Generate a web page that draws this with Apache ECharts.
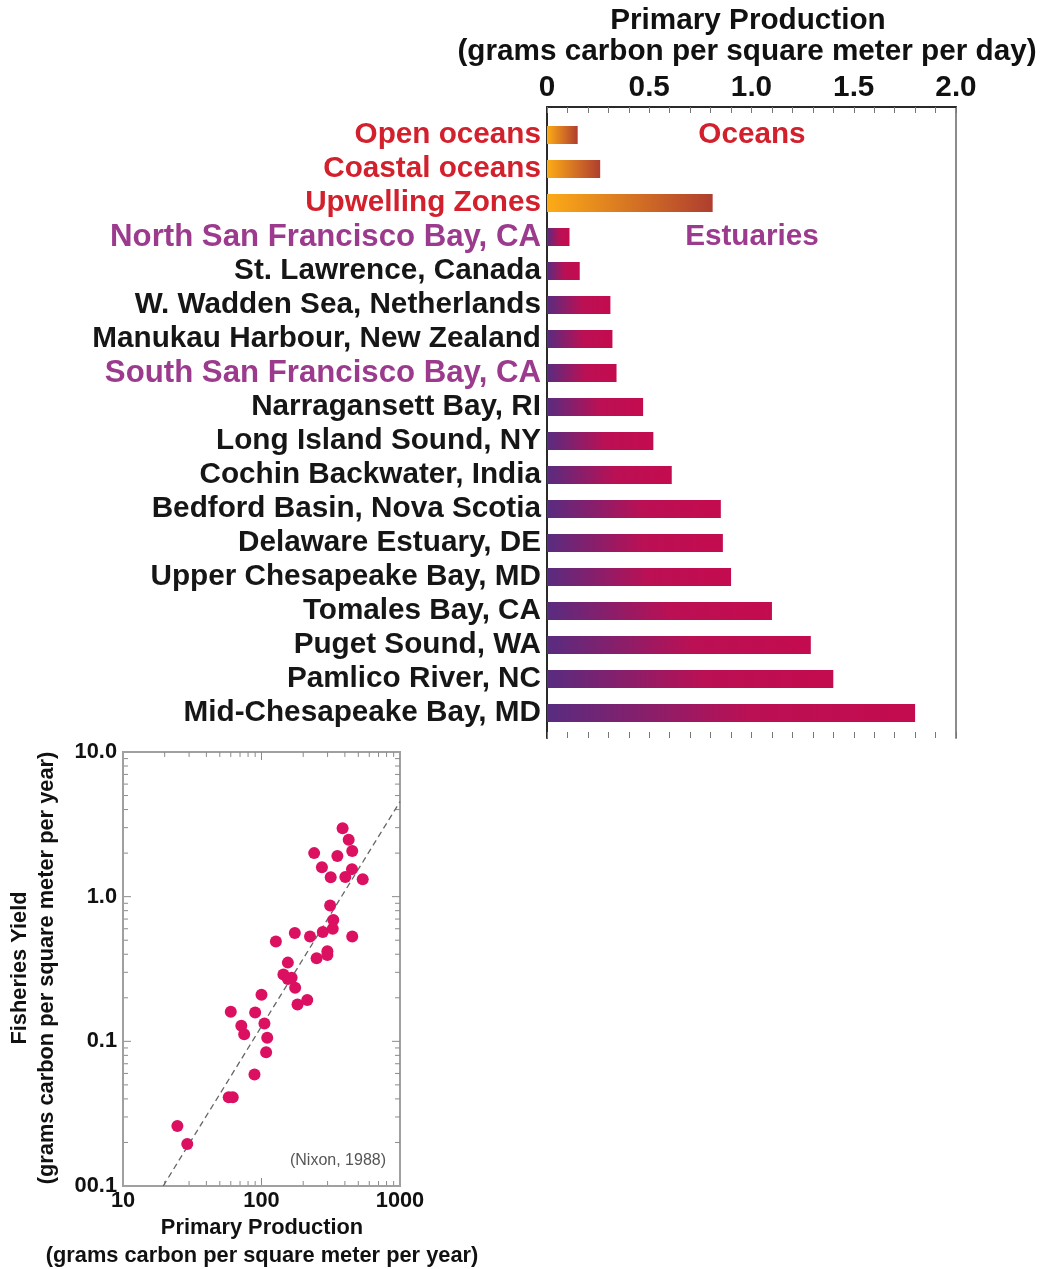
<!DOCTYPE html>
<html>
<head>
<meta charset="utf-8">
<script src="https://cdn.jsdelivr.net/npm/echarts@6/dist/echarts.min.js"></script>
<style>
  html, body { margin: 0; padding: 0; background: #fff; }
  #main { width: 1045px; height: 1269px; }
</style>
</head>
<body>
<div id="main"></div>
<script>
// ---- Daily primary production by system (g C per m^2 per day) ----
const sites = [
  'Open oceans', 'Coastal oceans', 'Upwelling Zones',
  'North San Francisco Bay, CA', 'St. Lawrence, Canada', 'W. Wadden Sea, Netherlands',
  'Manukau Harbour, New Zealand', 'South San Francisco Bay, CA', 'Narragansett Bay, RI',
  'Long Island Sound, NY', 'Cochin Backwater, India', 'Bedford Basin, Nova Scotia',
  'Delaware Estuary, DE', 'Upper Chesapeake Bay, MD', 'Tomales Bay, CA',
  'Puget Sound, WA', 'Pamlico River, NC', 'Mid-Chesapeake Bay, MD'
];
const dailyProduction = [0.15, 0.26, 0.81, 0.11, 0.16, 0.31, 0.32, 0.34, 0.47,
                         0.52, 0.61, 0.85, 0.86, 0.90, 1.10, 1.29, 1.40, 1.80];
const oceanSites = ['Open oceans', 'Coastal oceans', 'Upwelling Zones'];
const bayAreaSites = ['North San Francisco Bay, CA', 'South San Francisco Bay, CA'];
const productionTicks = ['0', '0.5', '1.0', '1.5', '2.0'];

// ---- Fisheries yield vs annual primary production (Nixon, 1988) ----
const annualProduction = [385, 426, 452, 240, 353, 273, 450, 403, 316, 538,
                          313, 330, 327, 277, 174, 224, 452, 127, 299, 299,
                          250, 155, 144, 155, 165, 175, 182, 214, 100, 60,
                          90, 105, 71.5, 75, 110, 108, 89, 58, 62, 24.7, 29.1];
const fisheriesYield = [2.97, 2.47, 2.07, 2.0, 1.91, 1.60, 1.55, 1.37, 1.36, 1.32,
                        0.87, 0.69, 0.60, 0.57, 0.56, 0.53, 0.53, 0.49, 0.42, 0.395,
                        0.375, 0.35, 0.29, 0.27, 0.275, 0.235, 0.18, 0.193, 0.21, 0.16,
                        0.158, 0.133, 0.128, 0.112, 0.106, 0.084, 0.059, 0.041, 0.041, 0.026, 0.0195];
const fitLine = [[19.5, 0.01], [1000, 4.54]];
const annualTicks = { 1: '10', 2: '100', 3: '1000' };
const yieldTicks = { '-2': '00.1', '-1': '0.1', 0: '1.0', 1: '10.0' };

const FONT = 'Liberation Sans, Arial, Helvetica, sans-serif';
const BIG = 29.7;
const SMALL = 21.8;
const OCEAN_RED = '#d2202c';
const BAY_PURPLE = '#9c3b8e';

const chart = echarts.init(document.getElementById('main'), null, { renderer: 'canvas' });

function barColor(name) {
  if (oceanSites.includes(name)) {
    return new echarts.graphic.LinearGradient(0, 0, 1, 0, [
      { offset: 0, color: '#fdab17' },
      { offset: 1, color: '#af3e2f' }
    ]);
  }
  return new echarts.graphic.LinearGradient(0, 0, 1, 0, [
    { offset: 0, color: '#582c80' },
    { offset: 0.55, color: '#bb1054' },
    { offset: 1, color: '#c40b4f' }
  ]);
}

function labelStyle(name) {
  if (oceanSites.includes(name)) return { color: OCEAN_RED };
  if (bayAreaSites.includes(name)) return { color: BAY_PURPLE, fontSize: 31.2 };
  return { color: '#161616' };
}

const pointData = annualProduction.map((x, i) => [x, fisheriesYield[i]]);

chart.setOption({
  animation: false,
  backgroundColor: '#fff',
  grid: [
    // frame of the production bar chart
    { left: 547, top: 107, width: 409, height: 631 },
    // bar rows
    { left: 547, top: 118, width: 409, height: 612 },
    // fisheries scatter
    { left: 123, top: 752, width: 277, height: 434, show: true, borderColor: '#a0a0a0', borderWidth: 2 }
  ],
  xAxis: [
    {
      gridIndex: 0, type: 'value', position: 'top', min: 0, max: 2, interval: 0.1,
      axisLine: { show: true, onZero: false, lineStyle: { color: '#2a2a2a', width: 2 } },
      axisTick: { show: true, inside: true, length: 6, lineStyle: { color: '#777', width: 1 } },
      splitLine: { show: false },
      axisLabel: {
        margin: 4, fontFamily: FONT, fontWeight: 'bold', fontSize: BIG, color: '#111',
        formatter: v => {
          const k = Math.round(v * 10);
          return k % 5 === 0 ? productionTicks[k / 5] : '';
        }
      }
    },
    {
      gridIndex: 0, type: 'value', position: 'bottom', min: 0, max: 2, interval: 0.1,
      axisLine: { show: false, onZero: false },
      axisTick: { show: true, inside: true, length: 6, lineStyle: { color: '#777', width: 1 } },
      axisLabel: { show: false }, splitLine: { show: false }
    },
    { gridIndex: 1, type: 'value', min: 0, max: 2, show: false },
    {
      gridIndex: 2, type: 'log', logBase: 10, min: 10, max: 1000,
      axisLine: { show: true, onZero: false, lineStyle: { color: '#a0a0a0', width: 2 } },
      axisTick: { show: false }, splitLine: { show: false }, minorTick: { show: false },
      axisLabel: {
        margin: 4, fontFamily: FONT, fontWeight: 'bold', fontSize: SMALL, color: '#111',
        formatter: v => annualTicks[Math.round(Math.log10(v))] || ''
      }
    }
  ],
  yAxis: [
    {
      gridIndex: 0, type: 'value', position: 'left', min: 0, max: 1,
      axisLine: { show: true, onZero: false, lineStyle: { color: '#2a2a2a', width: 2 } },
      axisTick: { show: false }, axisLabel: { show: false }, splitLine: { show: false }
    },
    {
      gridIndex: 0, type: 'value', position: 'right', min: 0, max: 1,
      axisLine: { show: true, onZero: false, lineStyle: { color: '#8c8c8c', width: 2 } },
      axisTick: { show: false }, axisLabel: { show: false }, splitLine: { show: false }
    },
    {
      gridIndex: 1, type: 'category', inverse: true,
      data: sites.map(name => ({ value: name, textStyle: labelStyle(name) })),
      axisLine: { show: false, onZero: false }, axisTick: { show: false }, splitLine: { show: false },
      axisLabel: { interval: 0, margin: 6, fontFamily: FONT, fontWeight: 'bold', fontSize: BIG }
    },
    {
      gridIndex: 2, type: 'log', logBase: 10, min: 0.01, max: 10,
      axisLine: { show: true, onZero: false, lineStyle: { color: '#a0a0a0', width: 2 } },
      axisTick: { show: false }, splitLine: { show: false }, minorTick: { show: false },
      axisLabel: {
        margin: 6, fontFamily: FONT, fontWeight: 'bold', fontSize: SMALL, color: '#111',
        formatter: v => yieldTicks[Math.round(Math.log10(v))] || ''
      }
    }
  ],
  series: [
    {
      type: 'bar', xAxisIndex: 2, yAxisIndex: 2, barWidth: 18,
      data: dailyProduction.map((v, i) => ({ value: v, itemStyle: { color: barColor(sites[i]) } }))
    },
    {
      type: 'line', xAxisIndex: 3, yAxisIndex: 3, data: fitLine, symbol: 'none',
      lineStyle: { color: '#666', width: 1.3, type: [6, 4] }, z: 2
    },
    {
      type: 'scatter', xAxisIndex: 3, yAxisIndex: 3, data: pointData,
      symbolSize: 12, itemStyle: { color: '#dc1060', opacity: 1 }, z: 3
    }
  ]
});

// Logarithmic tick marks around the scatter frame (2..9 per decade, longer at decades)
const ticks = [];
const tickStyle = { stroke: '#8a8a8a', lineWidth: 1 };
const [gx0, gy0] = chart.convertToPixel({ gridIndex: 2 }, [10, 0.01]);  // bottom-left
const [gx1, gy1] = chart.convertToPixel({ gridIndex: 2 }, [1000, 10]);  // top-right
for (let d = 1; d <= 2; d++) {
  for (let k = 1; k <= 9; k++) {
    if (k === 1 && d === 1) continue;
    const px = chart.convertToPixel({ gridIndex: 2 }, [k * Math.pow(10, d), 1])[0];
    const len = k === 1 ? 8 : 5;
    ticks.push({ type: 'line', shape: { x1: px, y1: gy0, x2: px, y2: gy0 - len }, style: tickStyle, silent: true });
    ticks.push({ type: 'line', shape: { x1: px, y1: gy1, x2: px, y2: gy1 + len }, style: tickStyle, silent: true });
  }
}
for (let d = -2; d <= 0; d++) {
  for (let k = 1; k <= 9; k++) {
    if (k === 1 && d === -2) continue;
    const py = chart.convertToPixel({ gridIndex: 2 }, [100, k * Math.pow(10, d)])[1];
    const len = k === 1 ? 8 : 5;
    ticks.push({ type: 'line', shape: { x1: gx0, y1: py, x2: gx0 + len, y2: py }, style: tickStyle, silent: true });
    ticks.push({ type: 'line', shape: { x1: gx1, y1: py, x2: gx1 - len, y2: py }, style: tickStyle, silent: true });
  }
}

const boldText = (x, y, text, size, color, extra) => Object.assign({
  type: 'text', x, y, silent: true,
  style: { text, fill: color, font: `bold ${size}px ${FONT}`, align: 'center', verticalAlign: 'middle' }
}, extra || {});

chart.setOption({
  graphic: [
    boldText(748, 21, 'Primary Production', BIG, '#111'),
    boldText(747, 52, '(grams carbon per square meter per day)', BIG, '#111'),
    boldText(752, 135, 'Oceans', BIG, OCEAN_RED),
    boldText(752, 237, 'Estuaries', BIG, BAY_PURPLE),
    boldText(262, 1228, 'Primary Production', SMALL, '#111'),
    boldText(262, 1256, '(grams carbon per square meter per year)', SMALL, '#111'),
    boldText(20, 968, 'Fisheries Yield', SMALL, '#111', { rotation: Math.PI / 2 }),
    boldText(47, 968, '(grams carbon per square meter per year)', SMALL, '#111', { rotation: Math.PI / 2 }),
    {
      type: 'text', x: 338, y: 1161, silent: true,
      style: { text: '(Nixon, 1988)', fill: '#555', font: `16px ${FONT}`, align: 'center', verticalAlign: 'middle' }
    },
    ...ticks
  ]
});
</script>
</body>
</html>
